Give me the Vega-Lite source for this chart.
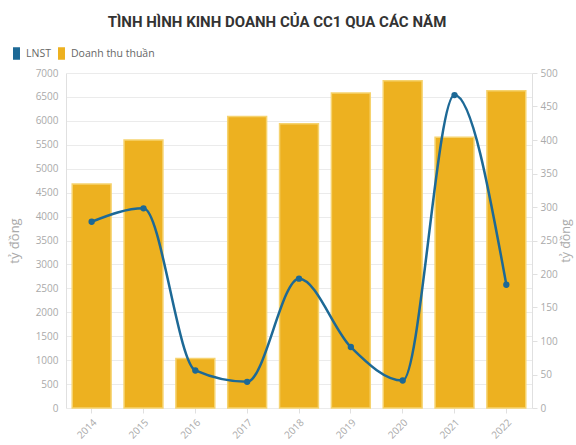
{
  "$schema": "https://vega.github.io/schema/vega-lite/v6.json",
  "width": 576,
  "height": 445,
  "autosize": {"type": "fit", "contains": "padding"},
  "padding": {"left": 8, "right": 4, "top": 15, "bottom": 4},
  "background": "white",
  "config": {
    "font": "Open Sans",
    "view": {"stroke": null},
    "axis": {"labelColor": "#aaaaaa", "titleColor": "#aaaaaa", "labelFontSize": 10, "titleFontSize": 13, "titleFontWeight": "normal", "gridColor": "#ebebeb", "domainColor": "#e0e0e0", "tickColor": "#e0e0e0", "format": "d"}
  },
  "title": {"text": "TÌNH HÌNH KINH DOANH CỦA CC1 QUA CÁC NĂM", "font": "Roboto", "fontSize": 15, "fontWeight": "bold", "color": "#333333", "anchor": "middle", "offset": 38, "dx": -22},
  "data": {
    "values": [
      {"year": "2014", "series": "Doanh thu thuần", "value": 4680},
      {"year": "2015", "series": "Doanh thu thuần", "value": 5600},
      {"year": "2016", "series": "Doanh thu thuần", "value": 1035},
      {"year": "2017", "series": "Doanh thu thuần", "value": 6090},
      {"year": "2018", "series": "Doanh thu thuần", "value": 5940},
      {"year": "2019", "series": "Doanh thu thuần", "value": 6580},
      {"year": "2020", "series": "Doanh thu thuần", "value": 6840},
      {"year": "2021", "series": "Doanh thu thuần", "value": 5660},
      {"year": "2022", "series": "Doanh thu thuần", "value": 6630},
      {"year": "2014", "series": "LNST", "value": 278},
      {"year": "2015", "series": "LNST", "value": 298},
      {"year": "2016", "series": "LNST", "value": 56},
      {"year": "2017", "series": "LNST", "value": 39},
      {"year": "2018", "series": "LNST", "value": 193},
      {"year": "2019", "series": "LNST", "value": 91},
      {"year": "2020", "series": "LNST", "value": 41},
      {"year": "2021", "series": "LNST", "value": 467},
      {"year": "2022", "series": "LNST", "value": 184}
    ]
  },
  "encoding": {
    "x": {
      "field": "year", "type": "nominal", "title": null,
      "scale": {"paddingInner": 0.25, "paddingOuter": 0.12},
      "axis": {"labelAngle": -45, "domain": false, "ticks": true, "tickSize": 5, "labelPadding": 4}
    },
    "color": {
      "field": "series", "type": "nominal", "title": null,
      "scale": {"domain": ["LNST", "Doanh thu thuần"], "range": ["#1d6996", "#edb120"]},
      "legend": {"orient": "none", "legendX": -56, "legendY": -26, "direction": "horizontal", "symbolType": "M-0.5,-1H0.5V1H-0.5Z", "symbolSize": 120, "symbolOpacity": 1, "labelColor": "#666666", "labelFontSize": 10.5, "labelOffset": 3, "columnPadding": 4, "symbolOffset": 0}
    }
  },
  "layer": [
    {
      "transform": [{"filter": "datum.series == 'Doanh thu thuần'"}],
      "mark": {"type": "bar", "stroke": "#f6d36f", "strokeWidth": 1.5, "opacity": 1},
      "encoding": {
        "y": {
          "field": "value", "type": "quantitative", "title": "tỷ đồng",
          "scale": {"domain": [0, 7000]},
          "axis": {"tickCount": 14, "ticks": false, "domain": true, "labelPadding": 8, "titlePadding": 14}
        }
      }
    },
    {
      "transform": [{"filter": "datum.series == 'LNST'"}],
      "mark": {"type": "line", "interpolate": "monotone", "strokeWidth": 2.5, "point": {"filled": true, "size": 40}},
      "encoding": {
        "y": {
          "field": "value", "type": "quantitative", "title": "tỷ đồng",
          "scale": {"domain": [0, 500]},
          "axis": {"orient": "right", "tickCount": 10, "grid": false, "ticks": true, "tickSize": 5, "domain": true, "labelPadding": 3, "titlePadding": 2, "titleFontSize": 12.5, "titleAngle": -90, "titleBaseline": "top"}
        }
      }
    }
  ],
  "resolve": {"scale": {"y": "independent"}}
}
